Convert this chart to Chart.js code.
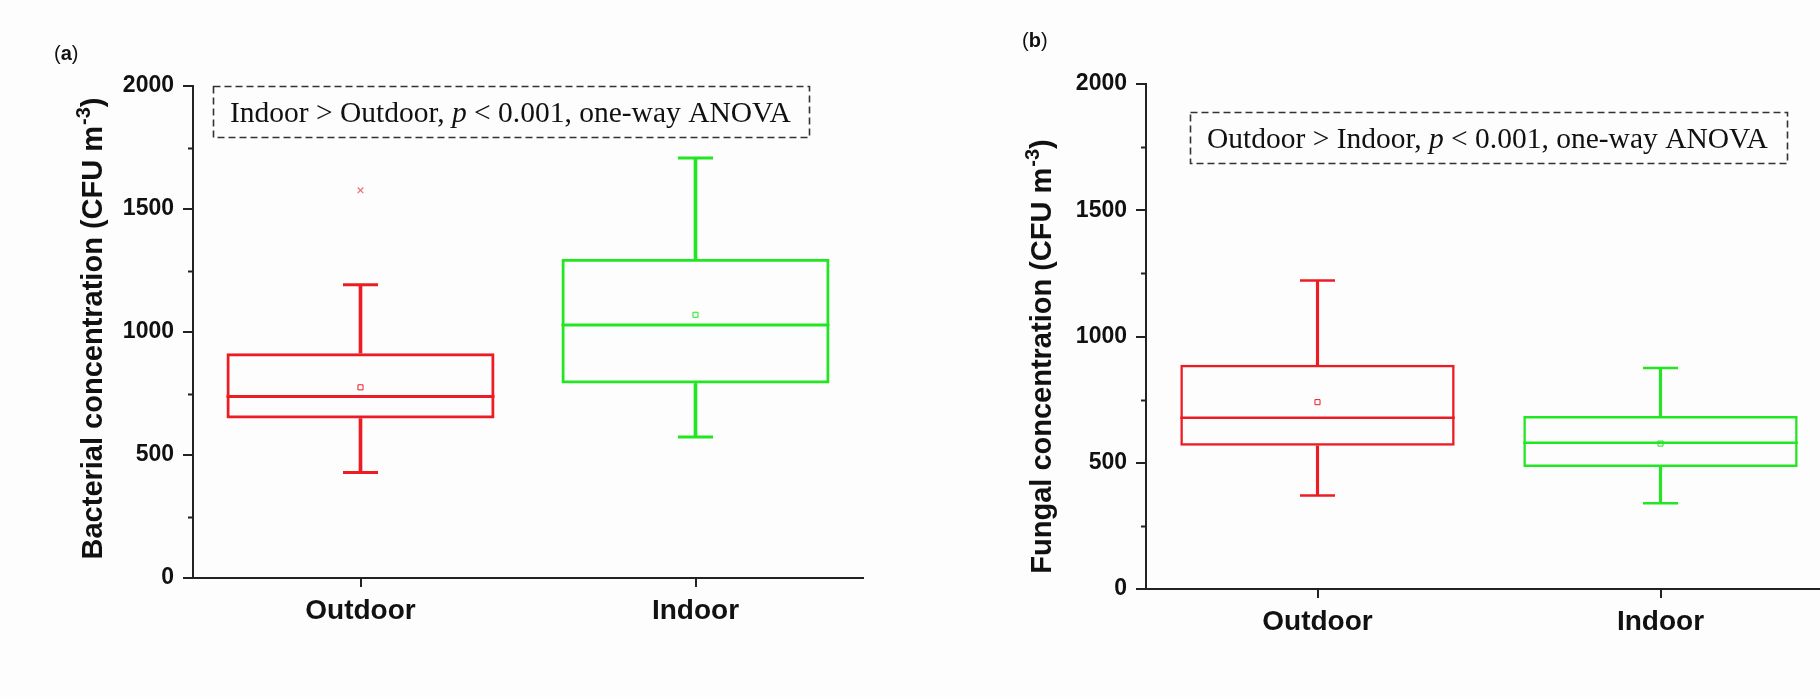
<!DOCTYPE html>
<html lang="en">
<head>
<meta charset="utf-8">
<title>Bacterial and fungal concentration</title>
<script src="https://cdn.jsdelivr.net/npm/chart.js@4.4.1/dist/chart.umd.min.js"></script>
<style>
    html, body {
        margin: 0;
        padding: 0;
        background: #fdfdfd;
        overflow: hidden;
    }

    #wrap {
        position: relative;
        width: 1820px;
        height: 697px;
        overflow: hidden;
    }

    #chartA { position: absolute; left: 0; top: 0; }
    #chartB { position: absolute; left: 930px; top: 0; }
</style>
</head>
<body>
<div id="wrap">
    <canvas id="chartA" width="910" height="697"></canvas>
    <canvas id="chartB" width="930" height="697"></canvas>
</div>
<script>
    // values, CFU m-3
    const groups = ['Outdoor', 'Indoor'];

    const bactMin = [429, 573];
    const bactQ1 = [648, 791];
    const bactMedian = [738, 1028];
    const bactQ3 = [914, 1298];
    const bactMax = [1192, 1707];
    const bactMean = [775, 1070];
    const bactOutlier = [1576, null];

    const fungMin = [370, 340];
    const fungQ1 = [567, 483];
    const fungMedian = [678, 579];
    const fungQ3 = [888, 685];
    const fungMax = [1222, 875];
    const fungMean = [740, 576];
    const fungOutlier = [null, null];

    const yTicks = [0, 500, 1000, 1500, 2000];
    const yMinorTicks = [250, 750, 1250, 1750];

    const colors = ['#ec1c24', '#22e622'];
    const outlierColors = ['#e87070', '#70e070'];

    const SANS = '"Liberation Sans", Arial, Helvetica, sans-serif';
    const SERIF = '"Liberation Serif", "Times New Roman", serif';

    // draws the panel letter, the rotated y title and the dashed annotation box
    const panelDecor = {
        id: 'panelDecor',
        afterDraw(chart, args, o) {
            const ctx = chart.ctx;
            const area = chart.chartArea;
            const y = chart.scales.y;
            ctx.save();

            // minor ticks
            ctx.strokeStyle = '#222';
            ctx.lineWidth = 2;
            yMinorTicks.forEach(v => {
                const py = Math.round(y.getPixelForValue(v)) + 0.5;
                ctx.beginPath();
                ctx.moveTo(area.left - 5, py);
                ctx.lineTo(area.left, py);
                ctx.stroke();
            });

            // panel letter
            ctx.fillStyle = '#111';
            ctx.textBaseline = 'alphabetic';
            ctx.textAlign = 'left';
            let x = o.letter.x;
            ctx.font = '20px ' + SANS;
            ctx.fillText('(', x, o.letter.y);
            x += ctx.measureText('(').width;
            ctx.font = 'bold 20px ' + SANS;
            ctx.fillText(o.letter.text, x, o.letter.y);
            x += ctx.measureText(o.letter.text).width;
            ctx.font = '20px ' + SANS;
            ctx.fillText(')', x, o.letter.y);

            // rotated y title with superscript
            const fs = o.title.size;
            ctx.translate(o.title.x, o.title.y);
            ctx.rotate(-Math.PI / 2);
            ctx.font = 'bold ' + fs + 'px ' + SANS;
            const w1 = ctx.measureText(o.title.text).width;
            const w3 = ctx.measureText(')').width;
            ctx.font = 'bold ' + Math.round(fs * 0.68) + 'px ' + SANS;
            const w2 = ctx.measureText('-3').width;
            let tx = -(w1 + w2 + w3) / 2;
            ctx.font = 'bold ' + fs + 'px ' + SANS;
            ctx.fillText(o.title.text, tx, 0);
            tx += w1 + 1;
            ctx.font = 'bold ' + Math.round(fs * 0.68) + 'px ' + SANS;
            ctx.fillText('-3', tx, -fs * 0.42);
            tx += w2;
            ctx.font = 'bold ' + fs + 'px ' + SANS;
            ctx.fillText(')', tx, 0);
            ctx.setTransform(1, 0, 0, 1, 0, 0);

            // dashed annotation box
            const b = o.box;
            ctx.strokeStyle = '#333';
            ctx.lineWidth = 1.6;
            ctx.setLineDash([7, 4]);
            ctx.strokeRect(b.x + 0.5, b.y + 0.5, b.w, b.h);
            ctx.setLineDash([]);
            ctx.fillStyle = '#111';
            let ax = b.textX;
            b.parts.forEach(p => {
                ctx.font = (p.italic ? 'italic ' : '') + b.size + 'px ' + SERIF;
                ctx.fillText(p.t, ax, b.textY);
                ax += ctx.measureText(p.t).width;
            });
            ctx.restore();
        }
    };

    function boxChart(canvasId, d, look) {
        const capRadius = 17.5;
        const halfBox = ctx => {
            const a = ctx.chart.chartArea;
            return a ? a.width / groups.length * 0.8 / 2 : 0;
        };
        const points = (label, data, extra) => Object.assign({
            type: 'line',
            label: label,
            data: data,
            showLine: false,
            pointBorderColor: colors,
            pointBackgroundColor: 'rgba(0,0,0,0)'
        }, extra);

        return new Chart(document.getElementById(canvasId), {
            type: 'bar',
            data: {
                labels: groups,
                datasets: [
                    {
                        label: 'IQR',
                        data: groups.map((g, i) => [d.q1[i], d.q3[i]]),
                        backgroundColor: 'rgba(0,0,0,0)',
                        borderColor: colors,
                        borderWidth: look.lw,
                        borderSkipped: false,
                        barPercentage: 0.8,
                        categoryPercentage: 1,
                        grouped: false
                    },
                    {
                        label: 'upper whisker',
                        data: groups.map((g, i) => [d.q3[i], d.max[i]]),
                        backgroundColor: colors,
                        barThickness: look.lw,
                        grouped: false
                    },
                    {
                        label: 'lower whisker',
                        data: groups.map((g, i) => [d.min[i], d.q1[i]]),
                        backgroundColor: colors,
                        barThickness: look.lw,
                        grouped: false
                    },
                    points('median', d.median, { pointStyle: 'line', pointRadius: halfBox, pointBorderWidth: look.medLw }),
                    points('max', d.max, { pointStyle: 'line', pointRadius: capRadius, pointBorderWidth: look.lw }),
                    points('min', d.min, { pointStyle: 'line', pointRadius: capRadius, pointBorderWidth: look.lw }),
                    points('mean', d.mean, { pointStyle: 'rect', pointRadius: 3.6, pointBorderWidth: 1 }),
                    points('outlier', d.outlier, { pointStyle: 'crossRot', pointRadius: 4, pointBorderWidth: 1.2, pointBorderColor: outlierColors })
                ]
            },
            options: {
                responsive: false,
                animation: false,
                events: [],
                layout: { padding: look.padding },
                plugins: {
                    legend: { display: false },
                    tooltip: { enabled: false },
                    panelDecor: look.decor
                },
                scales: {
                    x: {
                        offset: true,
                        afterFit: s => { s.height = 60; },
                        border: { display: true, color: '#222', width: 2 },
                        grid: { offset: false, drawOnChartArea: false, tickLength: 9, color: '#222', lineWidth: 2 },
                        ticks: { color: '#111', padding: 7, font: { family: SANS, size: 28, weight: 'bold' } }
                    },
                    y: {
                        min: 0,
                        max: 2000,
                        afterBuildTicks: s => { s.ticks = yTicks.map(v => ({ value: v })); },
                        afterFit: s => { s.width = 80; },
                        border: { display: true, color: '#222', width: 2 },
                        grid: { drawOnChartArea: false, tickLength: 10, color: '#222', lineWidth: 2 },
                        ticks: {
                            color: '#111',
                            padding: 9,
                            font: { family: SANS, size: 23, weight: 'bold' },
                            callback: v => String(v)
                        }
                    }
                }
            },
            plugins: [panelDecor]
        });
    }

    boxChart('chartA', {
        min: bactMin, q1: bactQ1, median: bactMedian, q3: bactQ3, max: bactMax,
        mean: bactMean, outlier: bactOutlier
    }, {
        lw: 3,
        medLw: 3,
        padding: { left: 113, right: 47, top: 86, bottom: 59 },
        decor: {
            letter: { text: 'a', x: 54, y: 60 },
            title: { text: 'Bacterial concentration (CFU m', x: 102, y: 329, size: 29 },
            box: {
                x: 213, y: 86, w: 596, h: 51, textX: 230, textY: 122, size: 29.5,
                parts: [
                    { t: 'Indoor > Outdoor, ' },
                    { t: 'p', italic: true },
                    { t: ' < 0.001, one-way ANOVA' }
                ]
            }
        }
    });

    boxChart('chartB', {
        min: fungMin, q1: fungQ1, median: fungMedian, q3: fungQ3, max: fungMax,
        mean: fungMean, outlier: fungOutlier
    }, {
        lw: 2.5,
        medLw: 2.5,
        padding: { left: 136, right: 28, top: 84, bottom: 48 },
        decor: {
            letter: { text: 'b', x: 92, y: 47 },
            title: { text: 'Fungal concentration (CFU m', x: 121, y: 357, size: 29 },
            box: {
                x: 260, y: 112, w: 597, h: 51, textX: 277, textY: 148, size: 29.5,
                parts: [
                    { t: 'Outdoor > Indoor, ' },
                    { t: 'p', italic: true },
                    { t: ' < 0.001, one-way ANOVA' }
                ]
            }
        }
    });
</script>
</body>
</html>
